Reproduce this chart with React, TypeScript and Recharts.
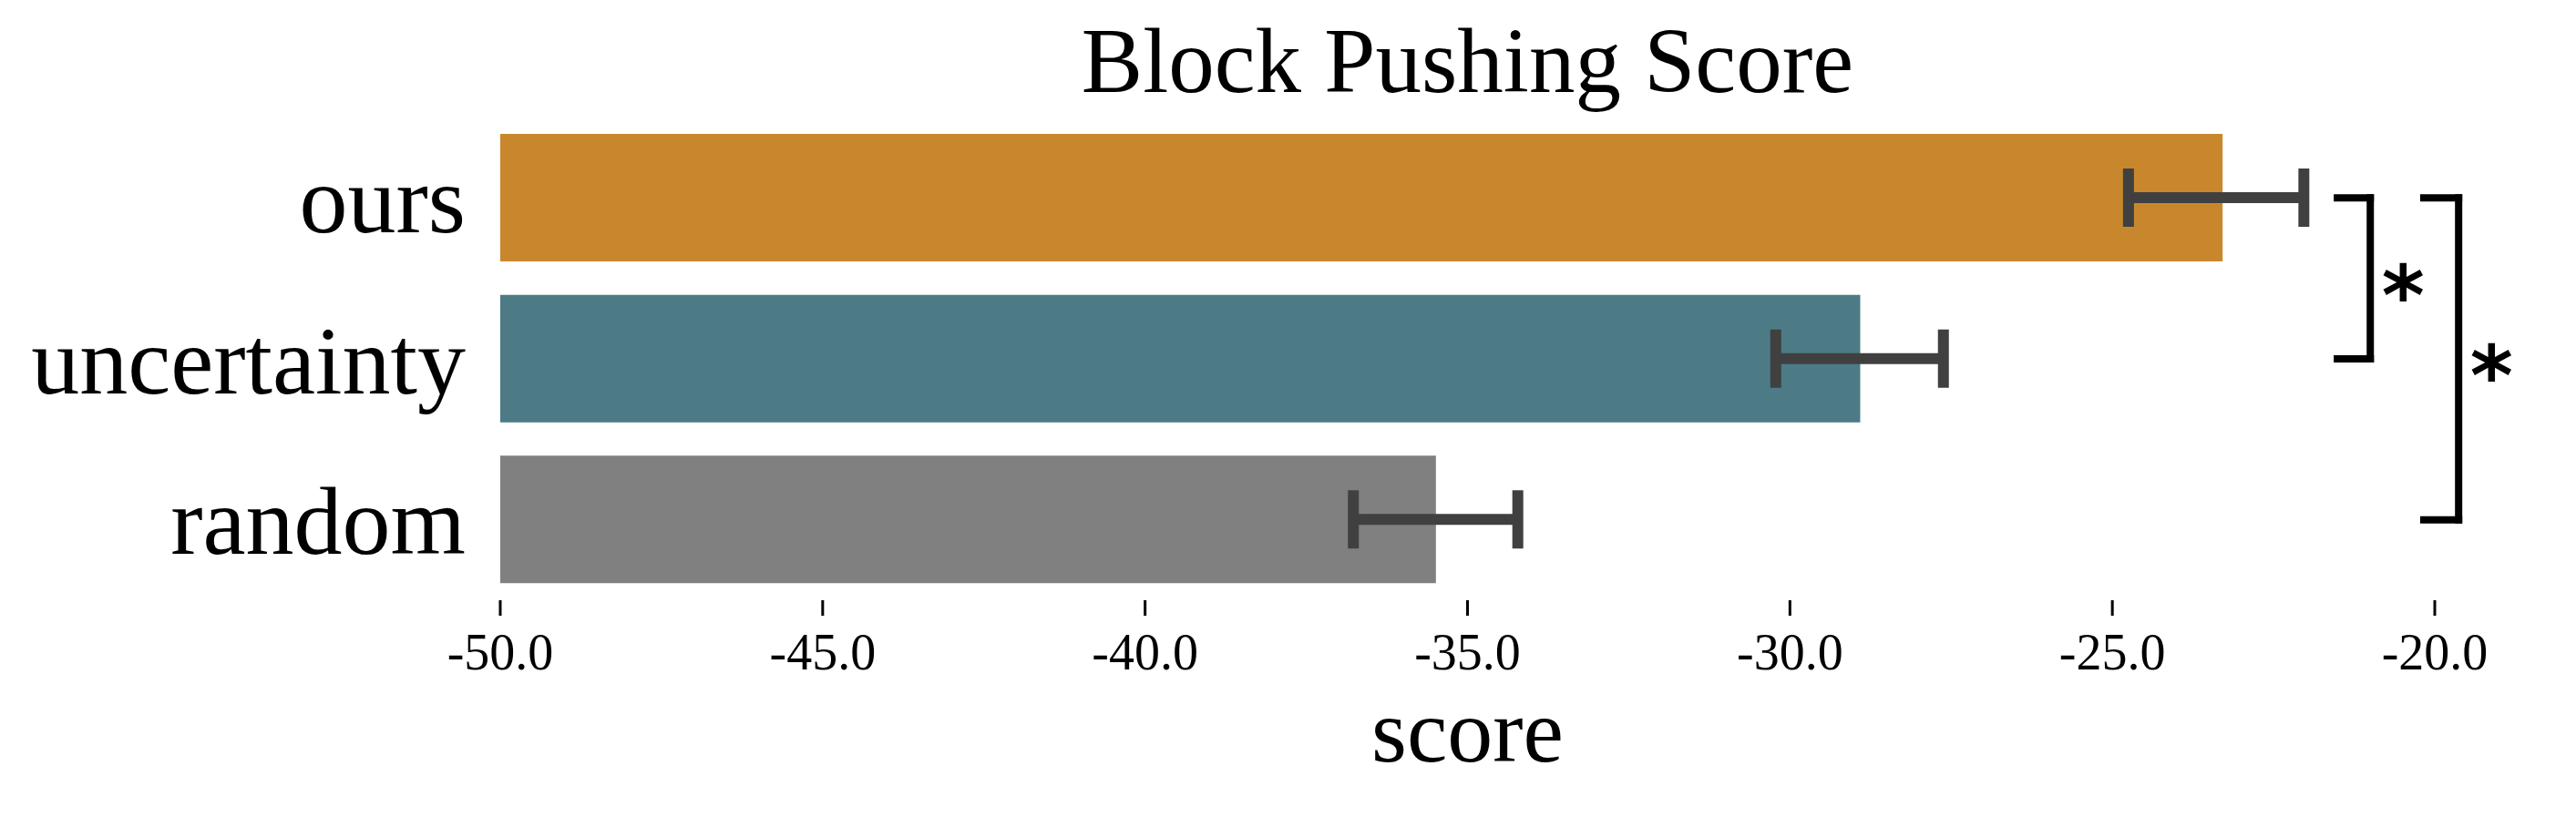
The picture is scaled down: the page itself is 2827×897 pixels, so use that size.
import React from 'react';
import { BarChart, Bar, XAxis, YAxis, ErrorBar, Cell, ReferenceLine } from 'recharts';

// ---- data ----
const categories = ['ours', 'uncertainty', 'random'];
const scores = [-23.29, -28.91, -35.49];
const errLow = [1.46, 1.31, 1.28];
const errHigh = [1.26, 1.29, 1.27];
const barColors = ['#C9872D', '#4C7B86', '#808080'];
const xTicks = [-50, -45, -40, -35, -30, -25, -20];
const xDomain: [number, number] = [-50, -20];
const title = 'Block Pushing Score';
const xLabel = 'score';

// significance brackets (x in score units)
const bracketFrom = ['ours', 'ours'];
const bracketTo = ['uncertainty', 'random'];
const bracketX = [-21.0, -19.63];
const bracketArmX = [-21.51, -20.17];
const bracketMark = ['*', '*'];

const data = categories.map((c, i) => ({
  name: c,
  range: [xDomain[0], scores[i]],
  score: scores[i],
  err: [errLow[i], errHigh[i]],
}));

const SERIF = "'Liberation Serif', 'Times New Roman', serif";

const StarLabel = (mark: string) => (props: any) => {
  const vb = props.viewBox || {};
  const x = (vb.x ?? 0) + (vb.width ?? 0) + 36;
  const y = (vb.y ?? 0) + (vb.height ?? 0) / 2 + 50;
  return (
    <text x={x} y={y} textAnchor="middle" fontFamily="'DejaVu Sans', sans-serif" fontWeight="bold" fontSize={90} fill="#000">
      {mark}
    </text>
  );
};

export default function App() {
  const bracketStroke = { stroke: '#000', strokeWidth: 8, strokeLinecap: 'square' as const };
  return (
    <div style={{ position: 'absolute', left: 0, top: 0, width: 2827, height: 897, background: '#fff' }}>
      <div
        style={{
          position: 'absolute',
          left: 549,
          top: 17,
          width: 2123,
          textAlign: 'center',
          fontFamily: SERIF,
          fontSize: 101,
          lineHeight: '101px',
          color: '#000',
          whiteSpace: 'nowrap',
        }}
      >
        {title}
      </div>
      <BarChart
        width={2827}
        height={897}
        data={data}
        layout="vertical"
        margin={{ top: 129, right: 155, bottom: 0, left: 0 }}
        barSize={140}
      >
        <XAxis
          type="number"
          domain={xDomain}
          ticks={xTicks}
          allowDataOverflow
          tickFormatter={(v: number) => v.toFixed(1)}
          axisLine={false}
          tickLine={{ stroke: '#000', strokeWidth: 3 }}
          tickSize={17}
          tickMargin={19}
          height={238}
          tick={{ fontFamily: SERIF, fontSize: 56, fill: '#000' }}
          label={{ value: xLabel, position: 'insideBottom', offset: 61, style: { fontFamily: SERIF, fontSize: 100, fill: '#000' } }}
        />
        <YAxis
          type="category"
          dataKey="name"
          width={549}
          axisLine={false}
          tickLine={false}
          tickSize={0}
          tickMargin={38}
          tick={{ fontFamily: SERIF, fontSize: 106, fill: '#000' }}
        />
        <Bar dataKey="range" isAnimationActive={false}>
          {data.map((d, i) => (
            <Cell key={d.name} fill={barColors[i]} />
          ))}
          <ErrorBar dataKey="err" direction="x" width={32} stroke="#404040" strokeWidth={12} isAnimationActive={false} />
        </Bar>
        {bracketX.map((bx, i) => (
          <React.Fragment key={'br' + i}>
            <ReferenceLine
              ifOverflow="visible"
              segment={[{ x: bracketArmX[i], y: bracketFrom[i] }, { x: bx, y: bracketFrom[i] }]}
              {...bracketStroke}
            />
            <ReferenceLine
              ifOverflow="visible"
              segment={[{ x: bracketArmX[i], y: bracketTo[i] }, { x: bx, y: bracketTo[i] }]}
              {...bracketStroke}
            />
            <ReferenceLine
              ifOverflow="visible"
              segment={[{ x: bx, y: bracketFrom[i] }, { x: bx, y: bracketTo[i] }]}
              {...bracketStroke}
              label={StarLabel(bracketMark[i])}
            />
          </React.Fragment>
        ))}
      </BarChart>
    </div>
  );
}
